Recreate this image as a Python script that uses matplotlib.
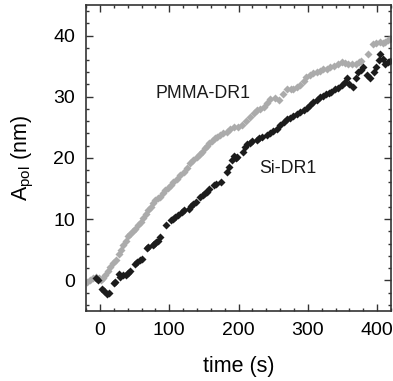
import matplotlib
matplotlib.use("Agg")
import matplotlib.pyplot as plt
from matplotlib.ticker import MultipleLocator

plt.rcParams["font.family"] = ["Liberation Sans", "DejaVu Sans"]

# ── data ──────────────────────────────────────────────────────────────────────
pmma_t = [-18, -14, -10, -6, -2, 1, 4, 8, 12, 15, 19, 23, 27, 30, 34, 37, 41, 44,
          48, 51, 55, 59, 62, 66, 70, 73, 77, 80, 84, 87, 91, 94, 98, 102, 106,
          111, 116, 121, 125, 130, 135, 140, 144, 147, 151, 154, 158, 162, 166,
          169, 173, 178, 183, 188, 193, 199, 205, 211, 217, 222, 226, 231, 236,
          241, 246, 252, 258, 264, 270, 275, 279, 284, 289, 294, 298, 303, 308,
          313, 318, 322, 327, 332, 337, 343, 349, 354, 358, 364, 370, 374, 377,
          387, 394, 399, 404, 408, 411, 415, 418]
pmma_a = [-0.2, 0.1, 0.3, 0.5, 0.4, 0.1, 0.3, 0.8, 1.6, 2.2, 2.8, 3.3, 4.3, 4.9,
          5.7, 6.5, 7.2, 7.6, 8.0, 8.4, 9.0, 9.5, 10.2, 10.9, 11.5, 12.0, 12.6,
          13.1, 13.4, 13.6, 14.2, 14.7, 15.1, 15.5, 16.0, 16.6, 17.2, 17.7, 18.4,
          19.1, 19.7, 20.1, 20.6, 21.0, 21.6, 22.0, 22.5, 22.8, 23.2, 23.4, 23.8,
          24.0, 24.2, 24.7, 25.0, 25.1, 25.3, 26.0, 26.7, 27.3, 27.8, 28.0, 28.3,
          29.0, 29.7, 29.8, 29.4, 30.4, 31.3, 31.3, 31.3, 31.6, 31.9, 32.6, 33.2,
          33.5, 33.8, 34.0, 34.2, 34.5, 34.6, 34.8, 35.1, 35.4, 35.6, 35.5, 35.4,
          35.4, 35.4, 35.6, 35.9, 37.0, 38.7, 38.8, 38.9, 38.8, 38.9, 39.2, 39.5]

si_t = [-6, -3, 3, 6, 10, 13, 20, 22, 27, 29, 33, 37, 40, 44, 51, 54, 58, 61,
        68, 70, 76, 78, 81, 84, 87, 95, 102, 105, 109, 112, 119, 122, 128, 131,
        135, 138, 145, 148, 151, 154, 158, 164, 167, 174, 183, 186, 190, 193,
        196, 198, 207, 210, 212, 216, 220, 226, 230, 234, 241, 245, 250, 255,
        260, 265, 270, 274, 279, 284, 289, 294, 299, 303, 308, 313, 317, 322,
        326, 330, 334, 339, 344, 349, 353, 356, 360, 365, 369, 373, 377, 380,
        386, 390, 395, 399, 402, 404, 408, 411, 415, 418]
si_a = [0.4, 0.0, -1.4, -1.8, -2.2, -2.0, -0.5, -0.2, 1.1, 0.6, 0.9, 0.8, 1.2,
        1.6, 2.7, 3.0, 3.3, 3.5, 5.2, 5.4, 5.8, 6.0, 6.3, 6.5, 7.1, 9.0, 9.8,
        10.1, 10.3, 10.6, 11.2, 11.5, 11.7, 12.1, 12.5, 12.8, 13.6, 14.0, 14.2,
        14.4, 14.9, 15.5, 15.8, 16.1, 17.7, 18.5, 19.6, 20.3, 20.0, 20.1, 21.0,
        21.8, 22.3, 22.5, 22.7, 22.9, 23.2, 23.4, 23.7, 24.0, 24.4, 24.8, 25.4,
        25.9, 26.4, 26.6, 26.9, 27.2, 27.5, 27.8, 28.2, 28.6, 29.1, 29.5, 29.9,
        30.2, 30.4, 30.6, 30.8, 31.2, 31.5, 31.9, 32.4, 33.0, 32.0, 31.6, 33.0,
        34.0, 34.4, 34.9, 33.5, 33.0, 34.0, 34.9, 36.0, 37.0, 36.2, 35.4, 35.6,
        35.9]

series_labels = ["PMMA-DR1", "Si-DR1"]
label_pos = [(149, 30.6), (271, 18.3)]

# ── plot ──────────────────────────────────────────────────────────────────────
fig = plt.figure(figsize=(3.93, 3.81), dpi=100)
ax = fig.add_axes([0.219, 0.184, 0.776, 0.803])

ax.plot(pmma_t, pmma_a, "D", color="#ababab", ms=4.4, mec="none")
ax.plot(si_t, si_a, "D", color="#1c1c1c", ms=4.4, mec="none")

for txt, (x, y) in zip(series_labels, label_pos):
    ax.text(x, y, txt, ha="center", va="center", fontsize=12.8, color="#1a1a1a")

ax.set_xlim(-20, 420)
ax.set_ylim(-5, 45)
ax.xaxis.set_major_locator(MultipleLocator(100))
ax.xaxis.set_minor_locator(MultipleLocator(20))
ax.yaxis.set_major_locator(MultipleLocator(10))
ax.yaxis.set_minor_locator(MultipleLocator(2))
ax.tick_params(which="both", direction="in", top=True, right=True,
               color="#333333", width=1)
ax.tick_params(which="major", length=5, labelsize=14, pad=8)
ax.tick_params(which="minor", length=2.5)
for sp in ax.spines.values():
    sp.set_color("#333333")
    sp.set_linewidth(1.2)

ax.set_xlabel("time (s)", fontsize=15.5, labelpad=12)
ax.set_ylabel(r"A$_{\mathregular{pol}}$ (nm)", fontsize=15.5, labelpad=12)

fig.savefig("out.png", dpi=100)
